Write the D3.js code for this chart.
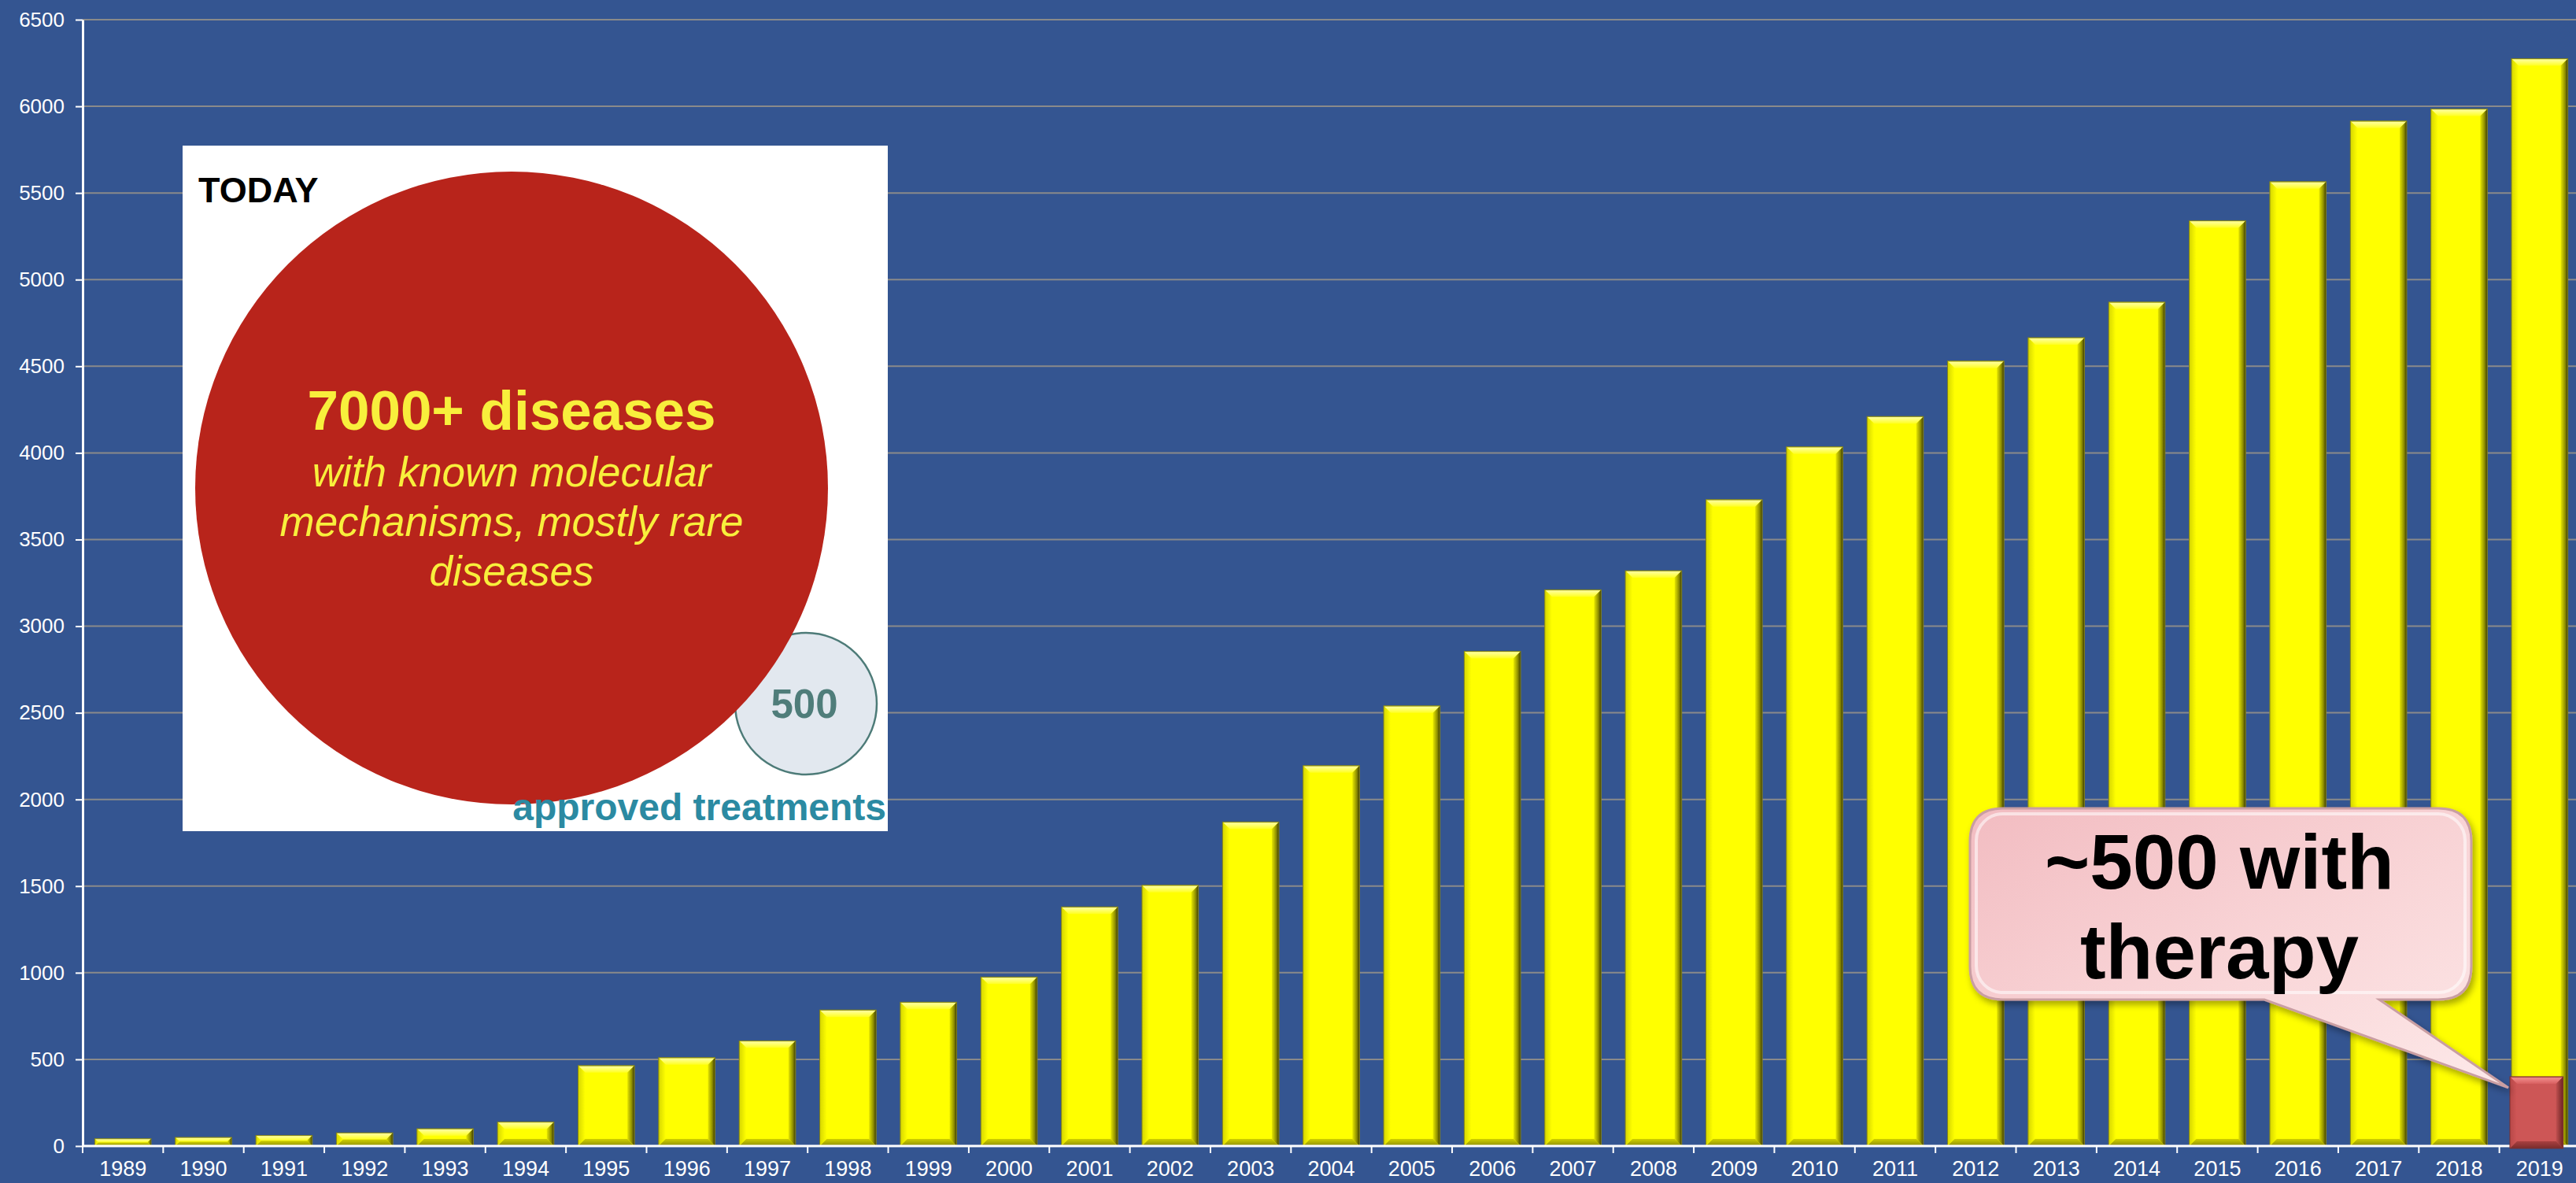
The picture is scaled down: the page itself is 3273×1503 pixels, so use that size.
<!DOCTYPE html>
<html>
<head>
<meta charset="utf-8">
<script src="https://cdn.jsdelivr.net/npm/d3@7"></script>
<style>
  html, body { margin: 0; padding: 0; background: #345591; }
  svg { display: block; font-family: "Liberation Sans", Arial, sans-serif; }
</style>
</head>
<body>
<svg id="chart"></svg>
<script>
// data
const years = ["1989","1990","1991","1992","1993","1994","1995","1996","1997","1998",
  "1999","2000","2001","2002","2003","2004","2005","2006","2007","2008",
  "2009","2010","2011","2012","2013","2014","2015","2016","2017","2018","2019"];
const diseaseCounts = [42, 50, 61, 76, 100, 139, 464, 510, 607, 785,
  830, 975, 1380, 1505, 1870, 2195, 2540, 2855, 3210, 3320,
  3730, 4035, 4210, 4530, 4665, 4870, 5340, 5565, 5915, 5985, 6275];
const therapyYears = ["2019"];
const therapyCounts = [400];
const yTicks = [0, 500, 1000, 1500, 2000, 2500, 3000, 3500, 4000, 4500, 5000, 5500, 6000, 6500];

const width = 3273;
const height = 1503;
const margin = { left: 105, top: 25, right: -5, bottom: 47 };

const svg = d3.select('#chart')
  .attr('width', width)
  .attr('height', height);

svg.append('rect')
  .attr('width', width)
  .attr('height', height)
  .attr('fill', '#345591');

const x = d3.scaleBand()
  .domain(years)
  .range([margin.left, width - margin.right])
  .paddingInner(0.3)
  .paddingOuter(0.15);

const y = d3.scaleLinear()
  .domain([0, 6500])
  .range([height - margin.bottom, margin.top]);

// gradients for the bevelled bars
const defs = svg.append('defs');
function grad(id, x2, y2, stops) {
  const g = defs.append('linearGradient').attr('id', id)
    .attr('x1', 0).attr('y1', 0).attr('x2', x2).attr('y2', y2);
  stops.forEach(s => g.append('stop').attr('offset', s[0]).attr('stop-color', s[1]));
}
grad('yTop', 0, 1, [[0, '#c8c800'], [0.15, '#ffff9a'], [1, '#ffff20']]);
grad('yLeft', 1, 0, [[0, '#d6d600'], [1, '#ffff00']]);
grad('yRight', 1, 0, [[0, '#e6e600'], [0.6, '#8f8f00'], [1, '#3a3a00']]);
grad('yBottom', 0, 1, [[0, '#d0d000'], [1, '#8e8e00']]);
grad('rTop', 0, 1, [[0, '#b04545'], [0.2, '#f08a8a'], [1, '#d86060']]);
grad('rLeft', 1, 0, [[0, '#b84848'], [1, '#cf5656']]);
grad('rRight', 1, 0, [[0, '#c05050'], [1, '#6e2424']]);
grad('rBottom', 0, 1, [[0, '#a84040'], [1, '#7a2c2c']]);
grad('bubble', 1, 1, [[0, '#f2bcc1'], [0.55, '#f9d6d8'], [1, '#fde9e9']]);

const shadow = defs.append('filter').attr('id', 'shadow')
  .attr('x', '-10%').attr('y', '-10%').attr('width', '130%').attr('height', '140%');
shadow.append('feDropShadow')
  .attr('dx', 3).attr('dy', 5).attr('stdDeviation', 4)
  .attr('flood-color', '#000').attr('flood-opacity', 0.35);

// gridlines
svg.append('g')
  .selectAll('line')
  .data(yTicks.filter(d => d > 0))
  .join('line')
  .attr('x1', margin.left).attr('x2', width)
  .attr('y1', d => y(d)).attr('y2', d => y(d))
  .attr('stroke', '#8a8a8a')
  .attr('stroke-width', 2);

function bevelBar(g, x0, y0, w, h, c) {
  const b = Math.min(9, h / 2);
  const x1 = x0 + w, y1 = y0 + h;
  g.append('rect').attr('x', x0).attr('y', y0).attr('width', w).attr('height', h).attr('fill', c.face);
  g.append('polygon').attr('points', [[x0, y0], [x1, y0], [x1 - b, y0 + b], [x0 + b, y0 + b]].join(' ')).attr('fill', c.top);
  g.append('polygon').attr('points', [[x0, y0], [x0 + b, y0 + b], [x0 + b, y1 - b], [x0, y1]].join(' ')).attr('fill', c.left);
  g.append('polygon').attr('points', [[x1, y0], [x1, y1], [x1 - b, y1 - b], [x1 - b, y0 + b]].join(' ')).attr('fill', c.right);
  g.append('polygon').attr('points', [[x0, y1], [x0 + b, y1 - b], [x1 - b, y1 - b], [x1, y1]].join(' ')).attr('fill', c.bottom);
  g.append('rect').attr('x', x0).attr('y', y0).attr('width', w).attr('height', h)
    .attr('fill', 'none').attr('stroke', c.edge).attr('stroke-width', 1);
}

const yellow = { face: '#ffff00', top: 'url(#yTop)', left: 'url(#yLeft)', right: 'url(#yRight)', bottom: 'url(#yBottom)', edge: '#7d7d20' };
const red = { face: '#cd5656', top: 'url(#rTop)', left: 'url(#rLeft)', right: 'url(#rRight)', bottom: 'url(#rBottom)', edge: '#7a3030' };

const bars = svg.append('g');
years.forEach((yr, i) => {
  const g = bars.append('g');
  bevelBar(g, x(yr), y(diseaseCounts[i]), x.bandwidth(), y(0) - y(diseaseCounts[i]), yellow);
});

// axes
const yAxis = svg.append('g')
  .attr('transform', `translate(${margin.left},0)`)
  .call(d3.axisLeft(y).tickValues(yTicks).tickFormat(d3.format('d'))
    .tickSize(9).tickPadding(14).tickSizeOuter(0));
yAxis.select('.domain').attr('stroke', '#fff').attr('stroke-width', 3);
yAxis.selectAll('.tick line').attr('stroke', '#fff').attr('stroke-width', 2);
yAxis.selectAll('text').attr('fill', '#fff').style('font-size', '26px');

const xAxis = svg.append('g')
  .attr('transform', `translate(0,${y(0)})`)
  .call(d3.axisBottom(x).tickSize(0).tickPadding(19));
xAxis.select('.domain').remove();
xAxis.selectAll('text').attr('fill', '#fff').style('font-size', '27px');

svg.append('line')
  .attr('x1', margin.left).attr('x2', width)
  .attr('y1', y(0)).attr('y2', y(0))
  .attr('stroke', '#fff').attr('stroke-width', 3);

const edgeOffset = x.step() * x.paddingInner() / 2;
svg.append('g')
  .selectAll('line')
  .data(years)
  .join('line')
  .attr('x1', d => x(d) - edgeOffset).attr('x2', d => x(d) - edgeOffset)
  .attr('y1', y(0)).attr('y2', y(0) + 9)
  .attr('stroke', '#fff').attr('stroke-width', 2);

// bars for diseases with therapy
therapyYears.forEach((yr, i) => {
  const g = svg.append('g');
  bevelBar(g, x(yr) - 2, y(therapyCounts[i]), x.bandwidth() - 4, y(0) - y(therapyCounts[i]) + 3, red);
});

// inset picture
const inset = svg.append('g');
inset.append('rect')
  .attr('x', 232).attr('y', 185).attr('width', 896).attr('height', 871)
  .attr('fill', '#fff');
inset.append('circle')
  .attr('cx', 1024).attr('cy', 894).attr('r', 90)
  .attr('fill', '#e2e8ef').attr('stroke', '#4d7b78').attr('stroke-width', 2.5);
inset.append('text')
  .attr('x', 1022).attr('y', 912)
  .attr('text-anchor', 'middle')
  .attr('fill', '#4f7d7a')
  .style('font-size', '51px').style('font-weight', 'bold')
  .text('500');
inset.append('circle')
  .attr('cx', 650).attr('cy', 620).attr('r', 402)
  .attr('fill', '#b8241b');
inset.append('text')
  .attr('x', 252).attr('y', 257)
  .attr('fill', '#000')
  .style('font-size', '45px').style('font-weight', 'bold')
  .text('TODAY');
inset.append('text')
  .attr('x', 650).attr('y', 546)
  .attr('text-anchor', 'middle')
  .attr('fill', '#f8ef3c')
  .style('font-size', '71px').style('font-weight', 'bold')
  .text('7000+ diseases');
const italicLines = ['with known molecular', 'mechanisms, mostly rare', 'diseases'];
inset.append('g')
  .selectAll('text')
  .data(italicLines)
  .join('text')
  .attr('x', 650)
  .attr('y', (d, i) => 618 + i * 63)
  .attr('text-anchor', 'middle')
  .attr('fill', '#f8ef3c')
  .style('font-size', '53px').style('font-style', 'italic')
  .text(d => d);
inset.append('text')
  .attr('x', 1126).attr('y', 1042)
  .attr('text-anchor', 'end')
  .attr('fill', '#2b8aa2')
  .style('font-size', '48px').style('font-weight', 'bold')
  .text('approved treatments');

// callout
const bx0 = 2503, bx1 = 3140, by0 = 1027, by1 = 1270, r = 42;
const tipX = x(therapyYears[0]) - 4;
const tipY = y(therapyCounts[0]) + 14;
const calloutPath = d3.path();
calloutPath.moveTo(bx0 + r, by0);
calloutPath.lineTo(bx1 - r, by0);
calloutPath.quadraticCurveTo(bx1, by0, bx1, by0 + r);
calloutPath.lineTo(bx1, by1 - r);
calloutPath.quadraticCurveTo(bx1, by1, bx1 - r, by1);
calloutPath.lineTo(3023, by1);
calloutPath.lineTo(tipX, tipY);
calloutPath.lineTo(2877, by1);
calloutPath.lineTo(bx0 + r, by1);
calloutPath.quadraticCurveTo(bx0, by1, bx0, by1 - r);
calloutPath.lineTo(bx0, by0 + r);
calloutPath.quadraticCurveTo(bx0, by0, bx0 + r, by0);
calloutPath.closePath();

const callout = svg.append('g');
callout.append('path')
  .attr('d', calloutPath.toString())
  .attr('fill', 'url(#bubble)')
  .attr('stroke', '#c99ea2')
  .attr('stroke-width', 3)
  .attr('filter', 'url(#shadow)');
callout.append('rect')
  .attr('x', bx0 + 8).attr('y', by0 + 7)
  .attr('width', bx1 - bx0 - 16).attr('height', by1 - by0 - 16)
  .attr('rx', r - 8)
  .attr('fill', 'none')
  .attr('stroke', '#fff')
  .attr('stroke-opacity', 0.55)
  .attr('stroke-width', 4);
const calloutLines = ['~500 with', 'therapy'];
callout.append('g')
  .selectAll('text')
  .data(calloutLines)
  .join('text')
  .attr('x', 2820)
  .attr('y', (d, i) => 1129 + i * 114)
  .attr('text-anchor', 'middle')
  .attr('fill', '#000')
  .style('font-size', '98px').style('font-weight', 'bold')
  .text(d => d);
</script>
</body>
</html>
